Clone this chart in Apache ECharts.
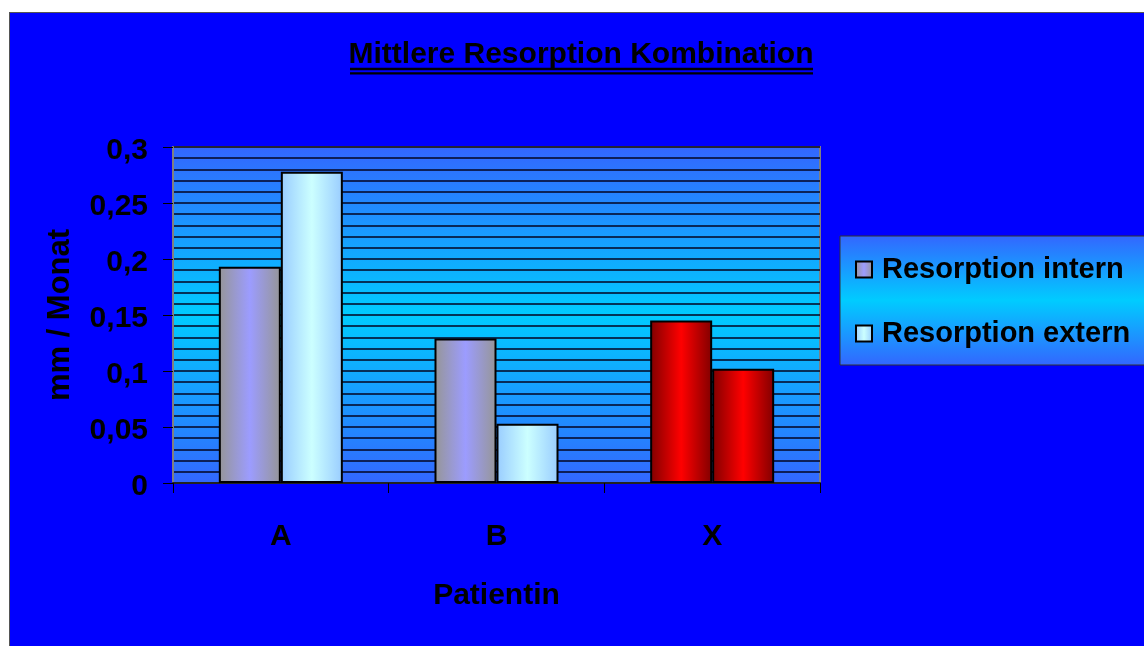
<!DOCTYPE html>
<html>
<head>
<meta charset="utf-8">
<script src="https://cdn.jsdelivr.net/npm/echarts@6/dist/echarts.min.js"></script>
<style>
  html, body { margin: 0; padding: 0; background: #ffffff; }
  #wrap { position: relative; width: 1144px; height: 646px; overflow: hidden; }
  #panel {
    position: absolute; left: 9px; top: 12px; width: 1200px; height: 700px;
    background: #0000ff; border-left: 1.5px solid #555555; border-top: 1.5px solid #555555;
  }
  #chart { position: absolute; left: 0; top: 0; width: 1144px; height: 646px; }
</style>
</head>
<body>
<div id="wrap">
  <div id="panel"></div>
  <div id="chart"></div>
</div>
<script>
// Patients on the category axis
const categories = ['A', 'B', 'X'];
// Mean resorption per month (mm / Monat)
const resorptionIntern = [0.193, 0.129, 0.145];
const resorptionExtern = [0.278, 0.053, 0.102];
const seriesNames = ['Resorption intern', 'Resorption extern'];
// Value axis tick labels (German decimal comma)
const yTickLabels = ['0', '0,05', '0,1', '0,15', '0,2', '0,25', '0,3'];

const FONT = 'Liberation Sans, Arial, sans-serif';

function hGrad(edge, mid) {
  return new echarts.graphic.LinearGradient(0, 0, 1, 0, [
    { offset: 0, color: edge },
    { offset: 0.5, color: mid },
    { offset: 1, color: edge }
  ]);
}
function vGrad(edge, mid) {
  return new echarts.graphic.LinearGradient(0, 0, 0, 1, [
    { offset: 0, color: edge },
    { offset: 0.5, color: mid },
    { offset: 1, color: edge }
  ]);
}

const internColor = hGrad('#969696', '#9c9cff');
const externColor = hGrad('#99ccff', '#ccffff');
const redColor = hGrad('#800000', '#ff0000');

// Patient X is drawn in red for both series
function withHighlight(values) {
  return values.map((v, i) => categories[i] === 'X'
    ? { value: v, itemStyle: { color: redColor } }
    : v);
}

const chart = echarts.init(document.getElementById('chart'), null, { renderer: 'canvas' });

chart.setOption({
  backgroundColor: 'transparent',
  animation: false,
  graphic: [
    {
      type: 'text', z: 10, silent: true,
      x: 581, y: 55,
      style: {
        text: 'Mittlere Resorption Kombination',
        fill: '#000', font: 'bold 30px ' + FONT,
        align: 'center', verticalAlign: 'middle'
      }
    },
    {
      type: 'rect', z: 10, silent: true,
      shape: { x: 350, y: 67.8, width: 463, height: 2.4 },
      style: { fill: '#000' }
    },
    {
      type: 'rect', z: 10, silent: true,
      shape: { x: 350, y: 72.2, width: 463, height: 2.4 },
      style: { fill: '#000' }
    }
  ],
  grid: {
    left: 173, top: 147, right: 324, bottom: 163,
    show: true,
    backgroundColor: vGrad('#3366ff', '#00ccff'),
    borderColor: '#808080',
    borderWidth: 2,
    containLabel: false
  },
  legend: {
    orient: 'vertical',
    left: 840, top: 236,
    padding: [19, 20, 17, 15],
    itemGap: 35,
    itemWidth: 16, itemHeight: 16,
    icon: 'rect',
    backgroundColor: vGrad('#3366ff', '#00ccff'),
    borderColor: '#333333',
    borderWidth: 1,
    borderRadius: 0,
    textStyle: {
      color: '#000', fontSize: 29, fontWeight: 'bold', fontFamily: FONT,
      padding: [0, 0, 0, 5]
    },
    data: seriesNames
  },
  xAxis: {
    type: 'category',
    data: categories,
    name: 'Patientin',
    nameLocation: 'middle',
    nameGap: 98,
    nameTextStyle: { color: '#000', fontSize: 30, fontWeight: 'bold', fontFamily: FONT },
    axisLine: { show: true, lineStyle: { color: '#222', width: 2 } },
    axisTick: { show: true, length: 10, lineStyle: { color: '#000', width: 1 } },
    axisLabel: { color: '#000', fontSize: 30, fontWeight: 'bold', fontFamily: FONT, margin: 39 },
    splitLine: { show: false }
  },
  yAxis: {
    type: 'value',
    min: 0, max: 0.3, interval: 0.05,
    name: 'mm / Monat',
    nameLocation: 'middle',
    nameGap: 97,
    nameRotate: 90,
    nameTextStyle: { color: '#000', fontSize: 31, fontWeight: 'bold', fontFamily: FONT },
    axisLine: { show: true, lineStyle: { color: '#808080', width: 2 } },
    axisTick: { show: true, length: 10, lineStyle: { color: '#000', width: 1 } },
    axisLabel: {
      color: '#000', fontSize: 30, fontWeight: 'bold', fontFamily: FONT, margin: 25,
      verticalAlign: 'top', lineHeight: 7,
      formatter: (v, i) => yTickLabels[i]
    },
    splitLine: { show: true, lineStyle: { color: '#050520', width: 1.5 } },
    minorTick: { show: false, splitNumber: 5 },
    minorSplitLine: { show: true, lineStyle: { color: '#050520', width: 1.5 } }
  },
  series: [
    {
      name: seriesNames[0],
      type: 'bar',
      data: withHighlight(resorptionIntern),
      barGap: '0%',
      barCategoryGap: '42.5%',
      itemStyle: { color: internColor, borderColor: '#000', borderWidth: 2 }
    },
    {
      name: seriesNames[1],
      type: 'bar',
      data: withHighlight(resorptionExtern),
      barGap: '0%',
      barCategoryGap: '42.5%',
      itemStyle: { color: externColor, borderColor: '#000', borderWidth: 2 }
    }
  ]
});
</script>
</body>
</html>
